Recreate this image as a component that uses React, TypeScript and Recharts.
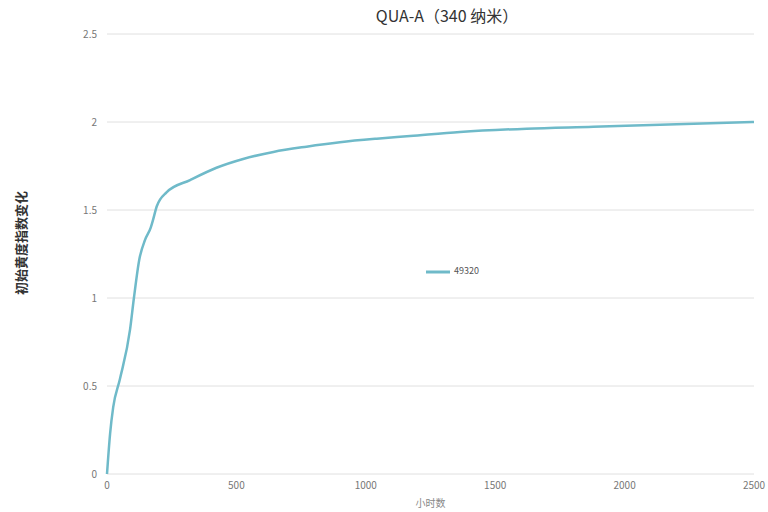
import React from 'react';
import { LineChart, Line, XAxis, YAxis, CartesianGrid, Legend } from 'recharts';

const hours = [0, 12, 24, 50, 89, 104, 125, 147, 169, 179, 192, 230, 321, 423, 526, 643, 771, 900, 1042, 1171, 1364, 1621, 1879, 2137, 2500];
const values = [0, 0.23, 0.38, 0.54, 0.82, 1.0, 1.22, 1.33, 1.4, 1.45, 1.52, 1.6, 1.67, 1.74, 1.79, 1.83, 1.86, 1.885, 1.905, 1.92, 1.943, 1.962, 1.973, 1.985, 2.0];
const xTicks = [0, 500, 1000, 1500, 2000, 2500];
const yTicks = [0, 0.5, 1, 1.5, 2, 2.5];

const data = hours.map((h, i) => ({ h, v: values[i] }));

const FONT = '"Noto Sans CJK SC", "Noto Sans", sans-serif';

const YLabel = (props: any) => {
  const vb = props.viewBox || { x: 0, y: 0, height: 0 };
  const cx = 20;
  const cy = vb.y + vb.height / 2 - 11;
  return (
    <text
      x={cx}
      y={cy}
      transform={`rotate(-90 ${cx} ${cy})`}
      textAnchor="middle"
      dominantBaseline="central"
      fill="#333"
      fontSize={13}
      fontWeight="bold"
      fontFamily={FONT}
    >
      初始黄度指数变化
    </text>
  );
};

export default function App() {
  return (
    <div style={{ position: 'relative', width: 768, height: 512, fontFamily: FONT, background: '#fff' }}>
      <style>{'body{margin:0}'}</style>
      <div
        style={{
          position: 'absolute',
          top: 3,
          left: 0,
          width: 768,
          textAlign: 'center',
          paddingLeft: 126,
          boxSizing: 'border-box',
          fontSize: 16,
          color: '#333',
        }}
      >
        QUA-A（340 纳米）
      </div>
      <LineChart width={768} height={512} data={data} margin={{ top: 34, right: 14, bottom: 8, left: 0 }}>
        <CartesianGrid vertical={false} stroke="#e0e0e0" />
        <XAxis
          dataKey="h"
          type="number"
          domain={[0, 2500]}
          ticks={xTicks}
          height={30}
          axisLine={false}
          tickLine={false}
          tickSize={0}
          tickMargin={8}
          tick={{ fill: '#777', fontSize: 10, fontFamily: FONT }}
          label={{ value: '小时数', position: 'insideBottom', offset: -3, fill: '#888', fontSize: 10, fontFamily: FONT }}
        />
        <YAxis
          type="number"
          domain={[0, 2.5]}
          ticks={yTicks}
          width={107}
          axisLine={false}
          tickLine={false}
          tickSize={0}
          tickMargin={10}
          tick={{ fill: '#777', fontSize: 10, fontFamily: FONT }}
          label={<YLabel />}
        />
        <Legend
          layout="vertical"
          align="center"
          verticalAlign="middle"
          iconType="plainline"
          iconSize={24}
          wrapperStyle={{ position: 'absolute', left: 426, top: 260, width: 100, fontSize: 9, color: '#555' }}
          formatter={(value) => <span style={{ color: '#555', fontSize: 9 }}>{value}</span>}
        />
        <Line
          type="monotone"
          dataKey="v"
          name="49320"
          stroke="#6fbac9"
          strokeWidth={2.5}
          dot={false}
          isAnimationActive={false}
        />
      </LineChart>
    </div>
  );
}
